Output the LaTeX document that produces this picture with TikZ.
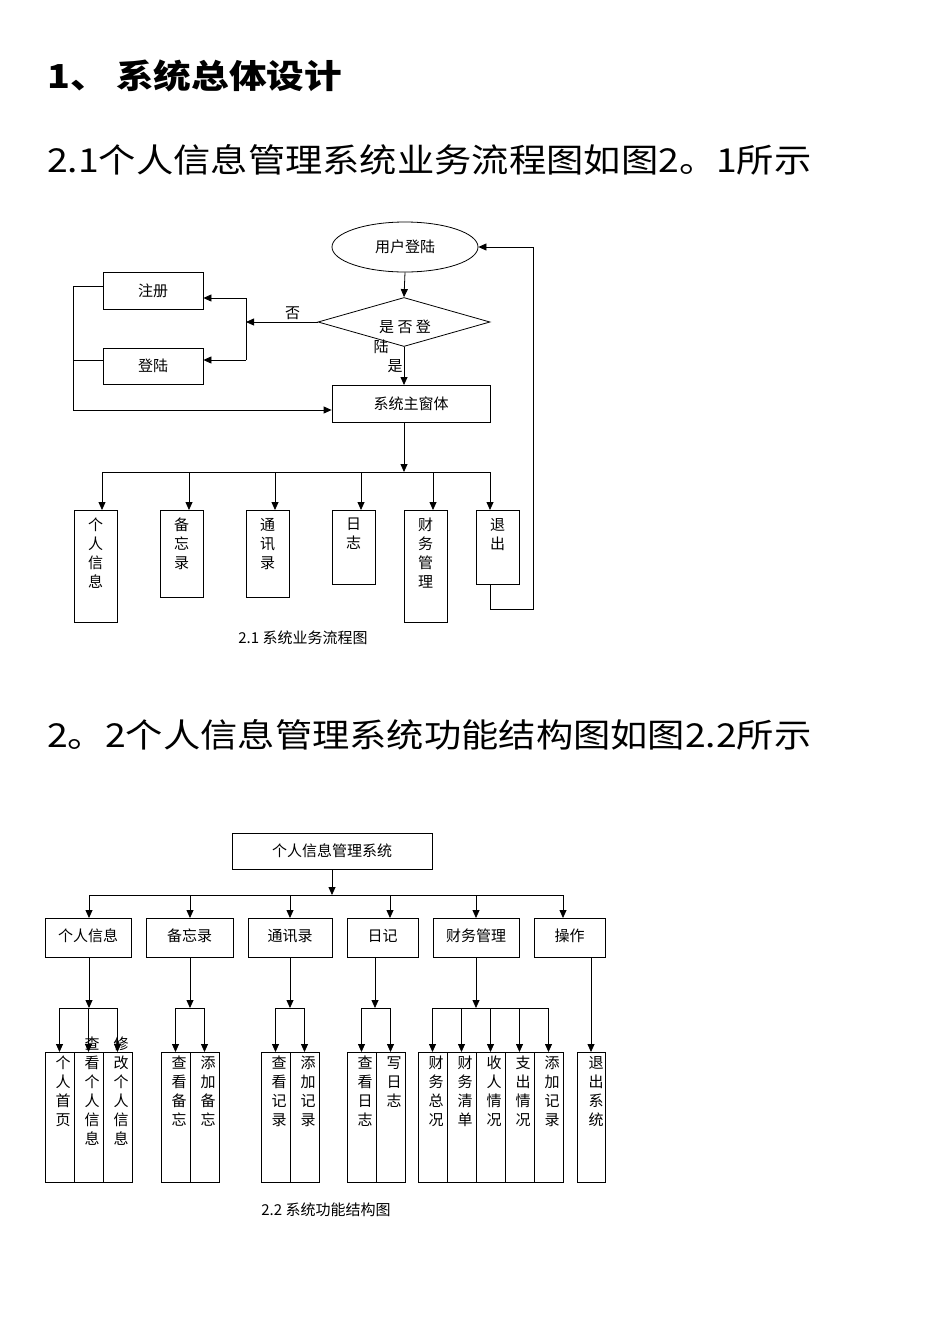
\documentclass[tikz,border=0pt]{standalone}
\usepackage{fontspec}
\setmainfont{Liberation Serif}
\newfontfamily\cjk{Noto Sans CJK SC}
\usetikzlibrary{shapes.geometric,arrows.meta}
\begin{document}
\begin{tikzpicture}[x=1pt,y=-1pt,
  bx/.style={draw,line width=0.8pt,inner sep=0pt},
  txt/.style={font=\cjk\fontsize{15}{19}\selectfont,inner sep=0pt,align=center},
  ar/.style={-{Triangle[length=8pt,width=7pt]},line width=0.8pt},
  ln/.style={line width=0.8pt},
  hd/.style={font=\cjk\fontsize{33}{40}\selectfont,anchor=base west,inner sep=0pt}]
\useasboundingbox (0,0) rectangle (950,1344);
\fill[white] (0,0) rectangle (950,1344);
% headings
\node[hd,font=\cjk\bfseries\fontsize{33}{40}\selectfont] (h1) at (47,88) {\scalebox{1.14}[1]{1、 系统总体设计}};
\node[hd] (h2) at (47,172) {\scalebox{1.13}[1]{2.1个人信息管理系统业务流程图如图2。1所示}};
\node[hd] (h3) at (47,747) {\scalebox{1.13}[1]{2。2个人信息管理系统功能结构图如图2.2所示}};
% ---- flowchart 1
\node[draw,ellipse,line width=0.8pt,minimum width=146pt,minimum height=50pt,txt] (login) at (405,247) {用户登陆};
\node[draw,diamond,line width=0.8pt,minimum width=172pt,minimum height=49pt,inner sep=0pt,aspect=3.5] (dec) at (404,322) {};
\node[txt] (dect) at (405,327) {是 否 登};
\node[txt] (dect2) at (381,347) {陆};
\node[bx,minimum width=100pt,minimum height=37pt,txt] (reg) at (153,291) {注册};
\node[bx,minimum width=100pt,minimum height=36pt,txt] (lg) at (153,366) {登陆};
\node[bx,minimum width=158pt,minimum height=37pt,txt] (mainw) at (411,403.5) {系统主窗体};
\coordinate (jx) at (246,322);
\draw[ar] (login.south) -- (dec.north);
\draw[ar] (dec.west) -- (jx) node[txt,pos=0.35,above=2pt] (no) {否};
\draw[ln] (246,298) -- (246,360);
\draw[ar] (246,298) -- (reg.east |- 0,298);
\draw[ar] (246,360) -- (lg.east |- 0,360);
\draw[ar] (dec.south) -- (404,385) node[txt,pos=0.5,left=1pt] (yes) {是};
\draw[ln] (reg.west |- 0,286) -- (73,286) -- (73,410);
\draw[ln] (lg.west |- 0,360) -- (73,360);
\draw[ar] (73,410) -- (mainw.west |- 0,410);
\coordinate (j1) at (404,472);
\draw[ar] (404,422) -- (j1);
\draw[ln] (102,472) -- (490,472);
\foreach \n/\x/\h/\c/\t in {a/95.5/112/102/个\\人\\信\\息, b/181.5/87/189/备\\忘\\录, c/267.5/87/275/通\\讯\\录, d/353.5/74/361/日\\志, e/425.5/112/433/财\\务\\管\\理, f/497.5/74/490/退\\出}{
  \node[bx,minimum width=43pt,minimum height=\h pt,anchor=north] (f\n) at (\x,510) {};
  \node[txt,anchor=north] (ft\n) at (\x,518) {\t};
  \draw[ar] (\c,472) -- (\c,510);
}
\draw[ln] (490,584) -- (490,609) -- (533,609) -- (533,247);
\draw[ar] (533,247) -- (login.east);
\node[txt] (cap1) at (303,638) {2.1 {\cjk 系统业务流程图}};
% ---- chart 2
\node[bx,minimum width=200pt,minimum height=36pt,txt] (root) at (332,851) {个人信息管理系统};
\draw[ar] (root.south) -- (332,895);
\draw[ln] (89,895) -- (563,895);
\foreach \n/\a/\b/\c/\t in {p/45/131/89/个人信息, q/146/233/190/备忘录, r/248/332/290/通讯录, s/347/418/390/日记, u/433/519/476/财务管理, v/534/605/563/操作}{
  \node[bx,minimum width={(\b-\a)*1pt},minimum height=39pt,anchor=north west] (l\n) at (\a,918) {};
  \node[txt] (lt\n) at ({(\a+\b)/2},936) {\t};
  \draw[ar] (\c,895) -- (\c,918);
}
% groups
\foreach \c/\l/\r in {89/60/118, 190/175/204, 290/275/304, 375/361/390, 476/433/548}{
  \draw[ar] (\c,957) -- (\c,1008);
  \draw[ln] (\l,1008) -- (\r,1008);
}
\foreach \n/\a/\y/\t in {
  a/45/1056/个\\人\\首\\页, b/74/1037/查\\看\\个\\人\\信\\息, c/103/1037/修\\改\\个\\人\\信\\息,
  d/161/1056/查\\看\\备\\忘, e/190/1056/添\\加\\备\\忘,
  f/261/1056/查\\看\\记\\录, g/290/1056/添\\加\\记\\录,
  h/347/1056/查\\看\\日\\志, i/376/1056/写\\日\\志,
  j/418/1056/财\\务\\总\\况, k/447/1056/财\\务\\清\\单, l/476/1056/收\\人\\情\\况, m/505/1056/支\\出\\情\\况, n/534/1056/添\\加\\记\\录}{
  \node[bx,minimum width=29pt,minimum height=130pt,anchor=north west] (m\n) at (\a,1052) {};
  \node[txt,anchor=north] (mt\n) at (\a+18,\y) {\t};
  \draw[ar] (\a+14.5,1008) -- (\a+14.5,1052);
}
\node[bx,minimum width=28pt,minimum height=130pt,anchor=north west] (mo) at (577,1052) {};
\node[txt,anchor=north] (mto) at (596,1056) {退\\出\\系\\统};
\draw[ar] (591,957) -- (591,1052);
\node[txt] (cap2) at (326,1210) {2.2 {\cjk 系统功能结构图}};
\end{tikzpicture}
\end{document}
